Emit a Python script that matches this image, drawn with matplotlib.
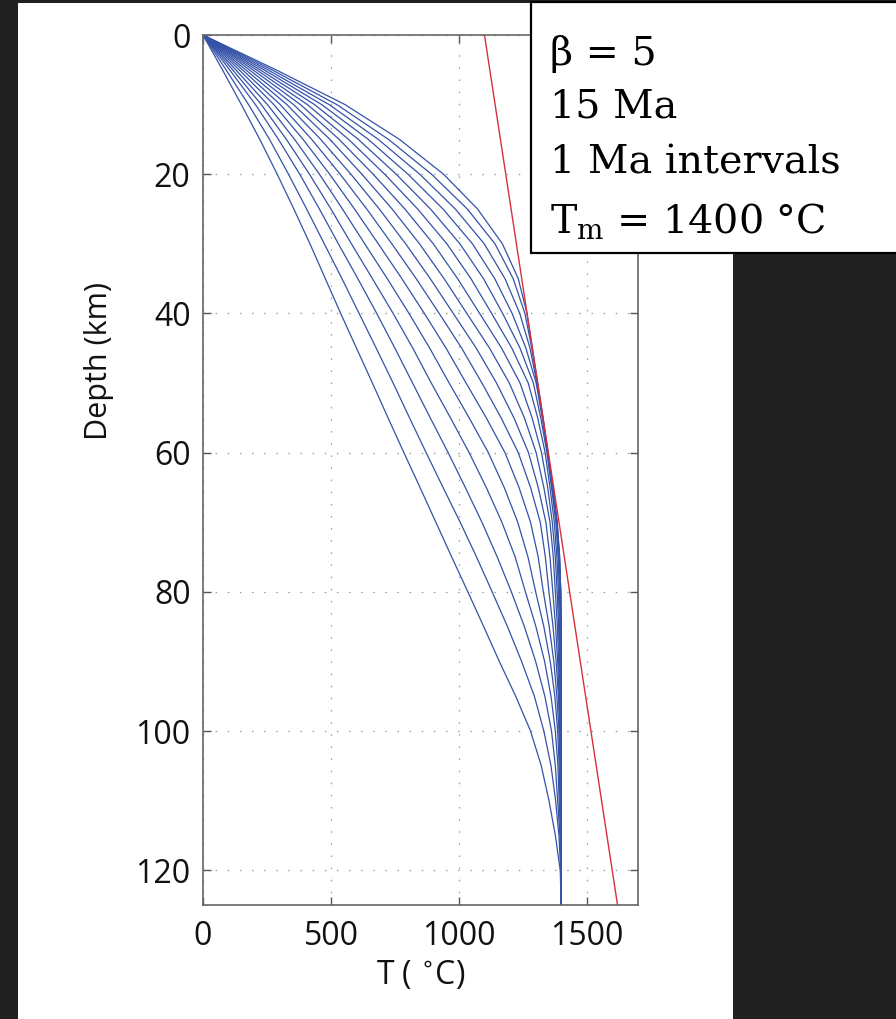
import matplotlib
matplotlib.use("Agg")
import matplotlib.pyplot as plt
from matplotlib.patches import Rectangle

# ---------------- data ----------------
depth_km = [0, 5, 10, 15, 20, 25, 30, 35, 40, 45, 50, 55, 60, 65, 70, 75, 80, 85,
            90, 95, 100, 105, 110, 115, 120, 125]

# geotherms at 1 Ma intervals, hottest (youngest) first; T in deg C at depth_km
T_c00 = [0, 285, 555, 768, 940, 1073, 1170, 1232, 1266, 1287, 1308, 1329, 1348, 1368, 1384, 1394, 1398, 1400, 1400, 1400, 1400, 1400, 1400, 1400, 1400, 1400]
T_c01 = [0, 269, 523, 725, 893, 1033, 1141, 1212, 1258, 1285, 1306, 1327, 1348, 1367, 1384, 1393, 1398, 1400, 1400, 1400, 1400, 1400, 1400, 1400, 1400, 1400]
T_c02 = [0, 253, 493, 685, 847, 986, 1099, 1180, 1238, 1278, 1305, 1328, 1348, 1366, 1383, 1393, 1398, 1399, 1399, 1400, 1400, 1400, 1400, 1400, 1400, 1400]
T_c03 = [0, 238, 464, 646, 801, 938, 1053, 1140, 1208, 1262, 1302, 1326, 1347, 1365, 1382, 1391, 1396, 1397, 1398, 1399, 1400, 1400, 1400, 1400, 1400, 1400]
T_c04 = [0, 223, 436, 607, 755, 889, 1004, 1096, 1171, 1239, 1291, 1320, 1344, 1362, 1379, 1388, 1393, 1396, 1397, 1398, 1399, 1400, 1400, 1400, 1400, 1400]
T_c05 = [0, 209, 408, 569, 710, 839, 953, 1047, 1128, 1207, 1271, 1308, 1337, 1356, 1373, 1383, 1389, 1393, 1395, 1397, 1399, 1400, 1400, 1400, 1400, 1400]
T_c06 = [0, 195, 381, 532, 665, 789, 900, 995, 1081, 1167, 1239, 1286, 1323, 1347, 1365, 1377, 1384, 1390, 1393, 1396, 1398, 1399, 1399, 1400, 1400, 1400]
T_c07 = [0, 181, 354, 496, 621, 739, 846, 942, 1031, 1120, 1197, 1256, 1302, 1332, 1356, 1369, 1377, 1385, 1390, 1394, 1397, 1398, 1399, 1400, 1400, 1400]
T_c08 = [0, 167, 328, 460, 578, 689, 792, 888, 978, 1068, 1147, 1215, 1272, 1310, 1340, 1356, 1367, 1378, 1386, 1392, 1396, 1398, 1399, 1400, 1400, 1400]
T_c09 = [0, 154, 302, 425, 536, 640, 738, 833, 923, 1011, 1090, 1165, 1232, 1280, 1318, 1338, 1352, 1368, 1380, 1389, 1394, 1397, 1398, 1400, 1400, 1400]
T_c10 = [0, 141, 277, 391, 495, 592, 685, 777, 865, 950, 1028, 1107, 1180, 1235, 1280, 1310, 1330, 1353, 1371, 1383, 1391, 1395, 1397, 1399, 1400, 1400]
T_c11 = [0, 128, 252, 358, 455, 545, 632, 720, 805, 886, 962, 1040, 1115, 1177, 1230, 1270, 1300, 1332, 1357, 1375, 1386, 1392, 1395, 1398, 1400, 1400]
T_c12 = [0, 116, 228, 326, 416, 500, 580, 662, 743, 820, 892, 967, 1040, 1107, 1168, 1220, 1260, 1301, 1335, 1360, 1377, 1387, 1392, 1397, 1400, 1400]
T_c13 = [0, 104, 205, 295, 378, 455, 529, 605, 679, 750, 819, 888, 958, 1025, 1090, 1150, 1205, 1256, 1300, 1336, 1362, 1377, 1386, 1395, 1400, 1400]
T_c14 = [0, 90, 178, 260, 334, 405, 474, 543, 610, 677, 743, 807, 872, 938, 1005, 1069, 1130, 1190, 1245, 1295, 1332, 1360, 1378, 1391, 1398, 1400]
T_c15 = [0, 76, 150, 222, 290, 355, 418, 478, 538, 600, 662, 723, 785, 848, 910, 972, 1035, 1097, 1158, 1222, 1280, 1322, 1352, 1377, 1396, 1400]

T_curves = [T_c00, T_c01, T_c02, T_c03, T_c04, T_c05, T_c06, T_c07,
            T_c08, T_c09, T_c10, T_c11, T_c12, T_c13, T_c14, T_c15]

red_depth = [0, 125]
red_T = [1100, 1620]

x_ticks = [0, 500, 1000, 1500]
y_ticks = [0, 20, 40, 60, 80, 100, 120]

box_lines = ["β = 5", "15 Ma", "1 Ma intervals", r"T$_{\mathrm{m}}$ = 1400 °C"]

# ---------------- figure ----------------
W, H = 896, 1019
fig = plt.figure(figsize=(W / 100, H / 100), dpi=100)
fig.patch.set_facecolor("#212121")

def fx(px):
    return px / W

def fy(py):
    return 1 - py / H

# white panel
fig.patches.append(Rectangle((fx(18), 0), fx(733) - fx(18), fy(3), transform=fig.transFigure,
                             facecolor="white", edgecolor="none", zorder=-10))

ax = fig.add_axes([fx(203), fy(905), fx(638) - fx(203), (905 - 35) / H])
ax.set_facecolor("white")

for T in T_curves:
    ax.plot(T, depth_km, color="#3352a8", lw=0.9, solid_joinstyle="round")
ax.plot(red_T, red_depth, color="#d8303c", lw=1.0)

ax.set_xlim(0, 1700)
ax.set_ylim(125, 0)
ax.set_xticks(x_ticks)
ax.set_yticks(y_ticks)

tick_font = dict(family="Open Sans", size=23)
ax.set_xticklabels([str(v) for v in x_ticks], **tick_font, color="#111111")
ax.set_yticklabels([str(v) for v in y_ticks], **tick_font, color="#111111")
ax.tick_params(axis="both", direction="in", length=6, width=1.0, color="#555555",
               top=True, right=True)
ax.tick_params(axis="x", pad=11)
ax.tick_params(axis="y", pad=9)

for s in ax.spines.values():
    s.set_color("#666666")
    s.set_linewidth(1.2)

ax.grid(True, color="#9a9a9a", lw=0.9, linestyle=(0, (1.2, 8.5)))
ax.set_axisbelow(True)

ax.set_xlabel("T ( $^{\\circ}$C)", family="Open Sans", size=23, color="#111111",
              math_fontfamily="dejavusans", labelpad=4)
ax.set_ylabel("Depth (km)", family="Open Sans", size=22, color="#111111")
ax.yaxis.set_label_coords(-0.205, 0.625)

# annotation box
fig.patches.append(Rectangle((fx(531), fy(253)), fx(900) - fx(531), fy(2) - fy(253),
                             transform=fig.transFigure, facecolor="white",
                             edgecolor="black", lw=1.6, zorder=5))
baselines = [65, 117, 173, 233]
for txt, b in zip(box_lines, baselines):
    fig.text(fx(550), fy(b), txt, family="DejaVu Serif", size=28.5, color="black",
             va="baseline", ha="left", math_fontfamily="dejavuserif", zorder=6)

fig.savefig("out.png", dpi=100, facecolor=fig.get_facecolor())
